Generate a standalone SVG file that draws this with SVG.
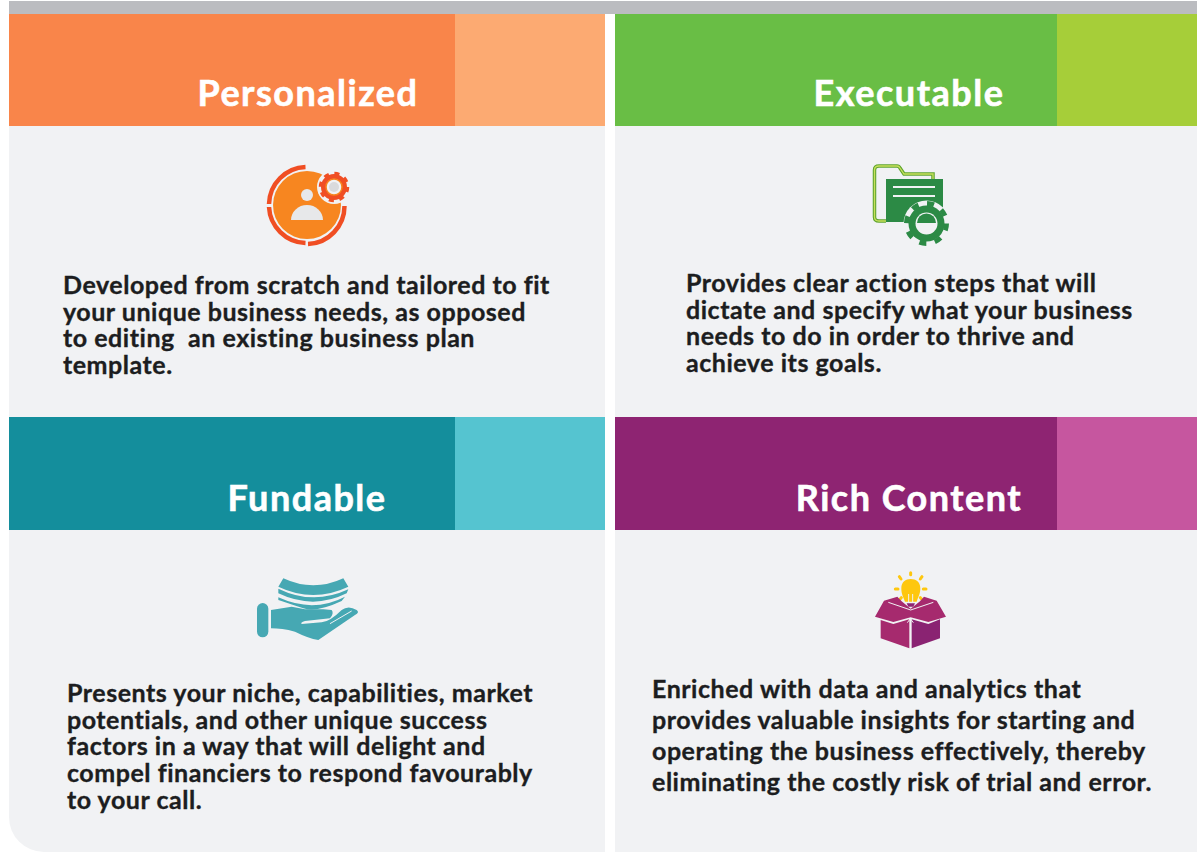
<svg xmlns="http://www.w3.org/2000/svg" width="1197" height="852" viewBox="0 0 1197 852">
<style>
.t{font-family:Lato,"Open Sans","Liberation Sans",sans-serif;font-weight:700;font-size:36px;fill:#fff;stroke:#fff;stroke-width:.6px;text-anchor:middle;letter-spacing:1.5px}
.b{font-family:Lato,"Open Sans","Liberation Sans",sans-serif;font-weight:700;font-size:25px;fill:#1c1d20;stroke:#1c1d20;stroke-width:.35px;letter-spacing:.53px;white-space:pre}
.bg{fill:#f1f2f4}
</style>
<rect width="1197" height="852" fill="#fff"/>
<rect x="9" y="1" width="1188" height="13" fill="#bbbcc0"/>
<path class="bg" d="M9 126H605V852H44A35 35 0 0 1 9 817Z"/>
<rect class="bg" x="615" y="126" width="582" height="726"/>

<g id="node-personalized">
<rect x="9" y="14" width="446" height="112" fill="#f9854a"/>
<rect x="455" y="14" width="150" height="112" fill="#fcaa72"/>
<text class="t" x="308" y="105.500">Personalized</text>
<g id="icon-personalized">
<circle cx="307" cy="205" r="34" fill="#f78620"/>
<g fill="none" stroke="#f04e23" stroke-width="4.500">
<path d="M305.500 167A38 38 0 0 0 269 204"/>
<path d="M269 207A38 38 0 0 0 305.500 243"/>
<path d="M308 244A38 38 0 0 0 344.500 206"/>
</g>
<circle cx="307" cy="195" r="6" fill="#e7e8ea"/>
<path d="M291 220A16 15 0 0 1 323 220Z" fill="#e7e8ea"/>
<circle cx="334" cy="187" r="17" fill="#f1f2f4"/>
<circle cx="334" cy="187" r="10.500" fill="none" stroke="#f04e23" stroke-width="5"/>
<circle cx="334" cy="187" r="13.500" fill="none" stroke="#f04e23" stroke-width="3.500" stroke-dasharray="5 5.600"/>
<circle cx="334" cy="187" r="8" fill="none" stroke="#f78620" stroke-width="1.500"/>
<circle cx="334" cy="187" r="5" fill="#d9dadc"/>
</g>
<text class="b" x="63" y="294">Developed from scratch and tailored to fit</text>
<text class="b" x="63" y="321">your unique business needs, as opposed</text>
<text class="b" x="63" y="347" xml:space="preserve">to editing  an existing business plan</text>
<text class="b" x="63" y="374">template.</text>
</g>

<g id="node-executable">
<rect x="615" y="14" width="442" height="112" fill="#69be45"/>
<rect x="1057" y="14" width="140" height="112" fill="#a6ce39"/>
<text class="t" x="909" y="105.500">Executable</text>
<g id="icon-executable">
<g fill="none">
<path d="M886 221H879Q874.500 221 874.500 217V170Q874.500 166 879 166H897Q899 166 900 168L904 174H933V179" stroke="#5fa52f" stroke-width="3.500"/>
<path d="M886 221H879Q874.500 221 874.500 217V170Q874.500 166 879 166H897Q899 166 900 168L904 174H933V179" stroke="#c8e05c" stroke-width="1.300"/>
</g>
<path d="M886 222V179H943V215H910L905 222Z" fill="#2c8a45"/>
<rect x="893" y="186" width="42" height="2" fill="#f1f2f4"/>
<rect x="893" y="195" width="42" height="2" fill="#f1f2f4"/>
<circle cx="926.500" cy="223.500" r="23" fill="#f1f2f4"/>
<circle cx="926.500" cy="223.500" r="18" fill="#2c8a45"/>
<circle cx="926.500" cy="223.500" r="20" fill="none" stroke="#2c8a45" stroke-width="5" stroke-dasharray="7 8.700"/>
<circle cx="926.500" cy="223.500" r="11" fill="#f1f2f4"/>
<path d="M917 223A9.500 9.500 0 0 1 936 223Z" fill="#2c8a45"/>
</g>
<text class="b" x="686" y="292">Provides clear action steps that will</text>
<text class="b" x="686" y="319">dictate and specify what your business</text>
<text class="b" x="686" y="345">needs to do in order to thrive and</text>
<text class="b" x="686" y="372">achieve its goals.</text>
</g>

<g id="node-fundable">
<rect x="9" y="417" width="446" height="113" fill="#148e9c"/>
<rect x="455" y="417" width="150" height="113" fill="#55c4d0"/>
<text class="t" x="307" y="510.500">Fundable</text>
<g id="icon-fundable" fill="#46a8b3" transform="translate(245 565) scale(.3333)">
<rect x="36" y="114" width="34" height="103" rx="17"/>
<path d="M115 40Q205 82 295 40L310 65Q205 115 100 65Z"/>
<path d="M100 71Q205 122 310 73L305 85Q205 135 100 85Z"/>
<path d="M100 97Q205 145 300 95L290 108Q215 143 175 130Q130 115 100 105Z"/>
<path d="M78 135L140 125L180 133L235 133L260 135Q268 145 255 160L180 168Q165 172 170 177L230 172Q255 170 290 135Q310 120 335 135Q345 142 330 150L220 225Q190 220 150 200Q110 190 78 190Z"/>
<path d="M255 176L320 138M262 132L285 125" fill="none" stroke="#f1f2f4" stroke-width="3"/>
</g>
<text class="b" x="67" y="702">Presents your niche, capabilities, market</text>
<text class="b" x="67" y="729">potentials, and other unique success</text>
<text class="b" x="67" y="755">factors in a way that will delight and</text>
<text class="b" x="67" y="782">compel financiers to respond favourably</text>
<text class="b" x="67" y="809">to your call.</text>
</g>

<g id="node-rich-content">
<rect x="615" y="417" width="442" height="113" fill="#8e2472"/>
<rect x="1057" y="417" width="140" height="113" fill="#c6569f"/>
<text class="t" x="909" y="510.500">Rich Content</text>
<g id="icon-rich-content" transform="translate(860 560) scale(.3333)">
<path d="M135 125C128 108 124 100 124 85C124 66 137 57 152 57C168 57 181 66 181 85C181 100 176 108 170 125Z" fill="#fec70f"/>
<path d="M146 128V102M158 128V102" stroke="#f1f2f4" stroke-width="3"/>
<path d="M140 130H165L160 140H145Z" fill="#8e2472"/>
<g stroke="#fec70f" stroke-width="9" stroke-linecap="round">
<path d="M152 38V44M118 50L123 57M186 50L181 57M106 87H114M190 87H198M119 119L124 113M186 119L181 113"/>
</g>
<path d="M72 122L112 110L125 124L152 146L180 124L192 110L230 122L258 170L205 186L152 172L100 186L45 170Z" fill="#a62a6e"/>
<path d="M85 127L152 150L220 127" fill="none" stroke="#f1f2f4" stroke-width="3"/>
<path d="M62 180L100 192L148 178V265L62 235Z" fill="#a62a6e"/>
<path d="M155 178L205 192L240 178V235L155 265Z" fill="#8a2372"/>
<path d="M142 188L151 176L160 188" fill="none" stroke="#f1f2f4" stroke-width="3"/>
</g>
<text class="b" x="652" y="698">Enriched with data and analytics that</text>
<text class="b" x="652" y="729">provides valuable insights for starting and</text>
<text class="b" x="652" y="760">operating the business effectively, thereby</text>
<text class="b" x="652" y="791">eliminating the costly risk of trial and error.</text>
</g>
<g id="connectors"/>
</svg>
